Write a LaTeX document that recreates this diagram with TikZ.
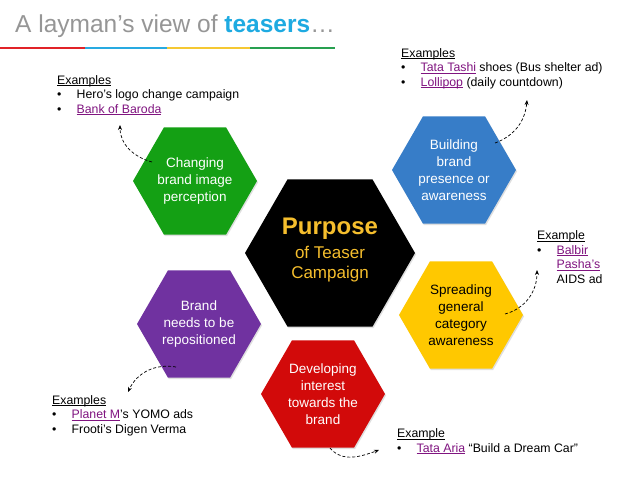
\documentclass[tikz,border=0pt]{standalone}
\usepackage{fontspec}
\setmainfont{Liberation Sans}
\usetikzlibrary{shapes.geometric,shadows,arrows.meta}

\newcommand{\exbullet}{\makebox[19.5pt][l]{\textbullet}}
\newcommand{\exul}[1]{\setbox0\hbox{#1}\rlap{\rule[-1.7pt]{\wd0}{0.6pt}}\box0}
\newcommand{\exlink}[1]{\textcolor{linkpurple}{\exul{#1}}}

\begin{document}
\begin{tikzpicture}[x=1pt,y=1pt,>={Stealth[length=5pt,width=4pt]},
  hexbox/.style={shape=regular polygon,regular polygon sides=6,minimum size=124pt,inner sep=0pt,
    align=center,text=white,font=\fontsize{13.5}{17}\selectfont,
    drop shadow={opacity=0.25,shadow xshift=1pt,shadow yshift=-1.5pt}},
  examplebox/.style={anchor=base west,align=left,inner sep=0pt,font=\fontsize{12.3}{14.5}\selectfont},
  tease/.style={->,line width=0.7pt,dash pattern=on 3pt off 2pt}]
\definecolor{titlegray}{RGB}{150,150,150}
\definecolor{teaserblue}{RGB}{30,170,225}
\definecolor{barred}{RGB}{225,35,40}
\definecolor{barblue}{RGB}{40,170,225}
\definecolor{baryellow}{RGB}{245,200,50}
\definecolor{bargreen}{RGB}{40,160,80}
\definecolor{hexgreen}{RGB}{20,160,20}
\definecolor{hexblue}{RGB}{55,125,200}
\definecolor{hexyellow}{RGB}{255,200,0}
\definecolor{hexred}{RGB}{210,10,10}
\definecolor{hexpurple}{RGB}{112,50,160}
\definecolor{purposegold}{RGB}{245,190,45}
\definecolor{linkpurple}{RGB}{128,20,128}

\fill[white] (0,-479) rectangle (638,0);
\useasboundingbox (0,-479) rectangle (638,0);

% title and colour bar
\node[anchor=base west,inner sep=0pt,text=titlegray,font=\fontsize{24.5}{28}\selectfont] (title) at (15,-32)
  {A layman’s view of \textcolor{teaserblue}{\textbf{teasers}}…};
\draw[line width=2.5pt,barred] (0,-48) -- (85,-48);
\draw[line width=2.5pt,barblue] (85,-48) -- (167,-48);
\draw[line width=2.5pt,baryellow] (167,-48) -- (250,-48);
\draw[line width=2.5pt,bargreen] (250,-48) -- (335,-48);

% hexagons
\node[hexbox,fill=black,minimum size=170pt,text=purposegold,font=\fontsize{17}{20}\selectfont] (purpose) at (330,-253)
  {{\fontsize{24}{24}\selectfont\bfseries Purpose}\\[4pt]of Teaser\\Campaign\rule[-9pt]{0pt}{9pt}};
\node[hexbox,fill=hexgreen] (changing) at (195,-181) {Changing\\brand image\\perception};
\node[hexbox,fill=hexblue] (building) at (454,-170) {Building\\brand\\presence or\\awareness};
\node[hexbox,fill=hexyellow,text=black] (spreading) at (461,-315) {Spreading\\general\\category\\awareness};
\node[hexbox,fill=hexred] (developing) at (323,-394) {Developing\\interest\\towards the\\brand};
\node[hexbox,fill=hexpurple] (repositioned) at (199,-324) {Brand\\needs to be\\repositioned};

% examples (anchored at the baseline of the last line)
\node[examplebox] (heroex) at (57,-113)
  {\exul{Examples}\\\exbullet Hero’s logo change campaign\\\exbullet\exlink{Bank of Baroda}};
\node[examplebox] (tashiex) at (401,-86)
  {\exul{Examples}\\\exbullet\exlink{Tata Tashi} shoes (Bus shelter ad)\\\exbullet\exlink{Lollipop} (daily countdown)};
\node[examplebox] (balbirex) at (537,-283)
  {\exul{Example}\\\exbullet\exlink{Balbir}\\\hspace*{19.5pt}\exlink{Pasha’s}\\\hspace*{19.5pt}AIDS ad};
\node[examplebox] (ariaex) at (397,-452)
  {\exul{Example}\\\exbullet\exlink{Tata Aria} “Build a Dream Car”};
\node[examplebox] (yomoex) at (52,-433)
  {\exul{Examples}\\\exbullet\exlink{Planet M}’s YOMO ads\\\exbullet Frooti’s Digen Verma};

% arrows
\coordinate (changingtail) at ([shift={(-43,19)}]changing.center);
\coordinate (buildingtail) at ([shift={(41,27)}]building.center);
\coordinate (spreadingtail) at ([shift={(44,1)}]spreading.center);
\coordinate (developingtail) at ([shift={(7,-54)}]developing.center);
\coordinate (repositionedtail) at ([shift={(-23,-43)}]repositioned.center);
\coordinate (heroexhead) at (120,-125);
\coordinate (tashiexhead) at (527,-100);
\coordinate (balbirexhead) at (537,-270);
\coordinate (ariaexhead) at (379,-450);
\coordinate (yomoexhead) at (128,-392);

\draw[tease] (changingtail) to [out=165,in=-90] (heroexhead);
\draw[tease] (buildingtail) to [out=20,in=-95] (tashiexhead);
\draw[tease] (spreadingtail) to [out=15,in=-90] (balbirexhead);
\draw[tease] (developingtail) to [out=-50,in=200] (ariaexhead);
\draw[tease] (repositionedtail) to [out=170,in=65] (yomoexhead);
\end{tikzpicture}
\end{document}
